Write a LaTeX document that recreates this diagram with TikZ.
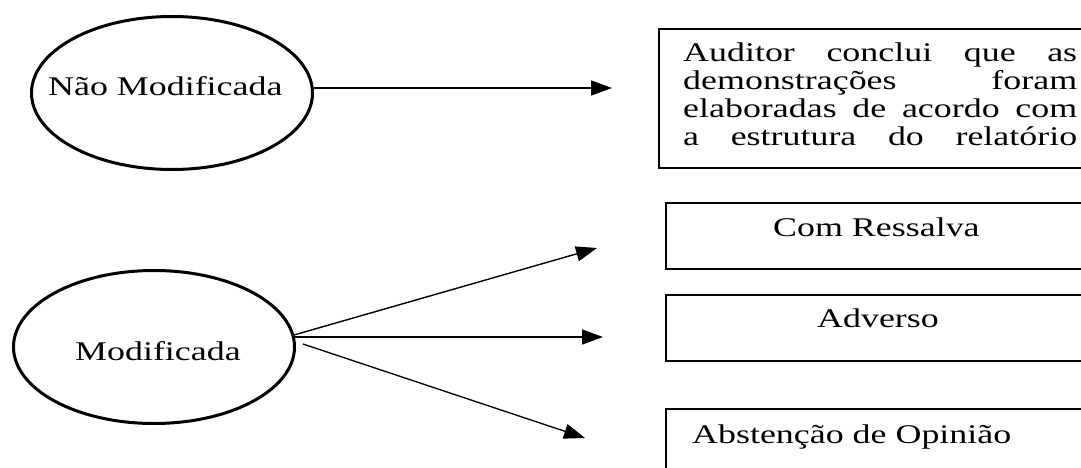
\documentclass[tikz,border=0pt]{standalone}
\usepackage{fontspec}
\setmainfont{Liberation Serif}[FakeStretch=1.33]
\usetikzlibrary{arrows.meta,calc,shapes.geometric}

\begin{document}
\begin{tikzpicture}[x=1pt,y=-1pt,
  oval/.style={ellipse,draw,line width=3pt,minimum width=281pt,minimum height=153pt,inner sep=0pt},
  panel/.style={rectangle,draw,line width=1.7pt,inner sep=0pt,anchor=north west,minimum width=470pt},
  lbl/.style={font=\fontsize{27}{28}\selectfont,anchor=base west,inner sep=0pt},
  arr/.style={line width=1.4pt,-{Triangle[length=21pt,width=15pt]}}
]
\useasboundingbox (0,0) rectangle (1081,468);
\clip (0,0) rectangle (1081,468);

% the two kinds of opinion
\node[oval] (nm) at (172,93) {};
\node[oval] (md) at (154,347) {};
\node[lbl] (tnm) at (48,96) {Não Modificada};
\node[lbl] (tmd) at (75,360) {Modificada};

% outcome panels (running past the right edge)
\node[panel,minimum height=139pt] (p1) at (658,28) {};
\node[panel,minimum height=66pt] (p2) at (665,202) {};
\node[panel,minimum height=66pt] (p3) at (665,294) {};
\node[panel,minimum height=100pt] (p4) at (665,408) {};

% justified lines of the first panel
\node[lbl] (tp1a) at (683,62)  {\makebox[394pt][s]{Auditor conclui que as}};
\node[lbl] (tp1b) at (683,90)  {\makebox[394pt][s]{demonstrações foram}};
\node[lbl] (tp1c) at (683,118) {\makebox[394pt][s]{elaboradas de acordo com}};
\node[lbl] (tp1d) at (683,146) {\makebox[394pt][s]{a estrutura do relatório}};

\node[lbl] (tp2) at (773,236) {Com Ressalva};
\node[lbl] (tp3) at (817,327) {Adverso};
\node[lbl] (tp4) at (692,443) {Abstenção de Opinião};

% arrow ends
\coordinate (a0) at (612,88);
\coordinate (a1) at (597,248);
\coordinate (a2) at (603,337);
\coordinate (a3) at (585,438);

\draw[arr] (nm.east |- a0) -- (a0);
\draw[arr] ($(md.east)+(-2,-12)$) -- (a1);
\draw[arr] ($(md.east)+(-2,-10)$) -- (a2);
\draw[arr] ($(md.east)+(7,-3)$) -- (a3);
\end{tikzpicture}
\end{document}
